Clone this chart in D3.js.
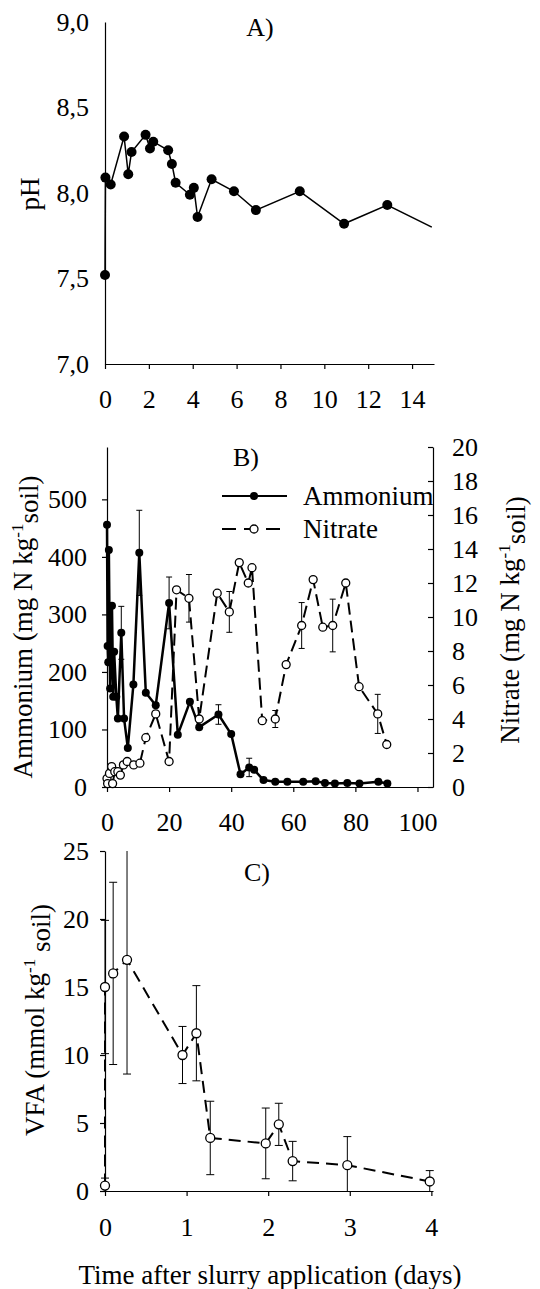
<!DOCTYPE html>
<html>
<head>
<meta charset="utf-8">
<script src="https://cdn.jsdelivr.net/npm/d3@7"></script>
<style>
body { margin: 0; background: #fff; }
svg text { font-family: "Liberation Serif", "Times New Roman", serif; fill: #000; }
.axis path, .axis line { stroke: #000; stroke-width: 1.2; }
</style>
</head>
<body>
<svg id="chart" width="540" height="1289"></svg>
<script>
/*Panel A: soil pH*/
var phDays   = [0, 0.02, 0.26, 0.87, 1.06, 1.21, 1.85, 2.05, 2.2, 2.88, 3.05, 3.22, 3.87, 4.05, 4.22, 4.86, 5.88, 6.88, 8.88, 10.9, 12.87, 14.9];
var phValues = [7.52, 8.09, 8.05, 8.33, 8.11, 8.24, 8.34, 8.26, 8.30, 8.25, 8.17, 8.06, 7.99, 8.03, 7.86, 8.08, 8.01, 7.90, 8.01, 7.82, 7.93, 7.80];
var phTicksX = [0, 2, 4, 6, 8, 10, 12, 14];
var phTicksY = [7.0, 7.5, 8.0, 8.5, 9.0];

/*Panel B: ammonium (left axis) and nitrate (right axis)*/
var nh4Days   = [0, 0.2, 0.4, 0.6, 1.0, 1.3, 1.6, 2.0, 2.3, 3.0, 3.5, 4.6, 5.5, 6.7, 8.5, 10.4, 12.5, 15.7, 20.0, 22.8, 26.7, 29.7, 35.9, 40.0, 43.0, 45.8, 47.4, 50.4, 54.2, 58.1, 63.2, 67.2, 70.2, 73.4, 77.4, 81.3, 87.4, 90.3];
var nh4Values = [456, 245, 217, 412, 171, 217, 315, 157, 235, 157, 119, 268, 119, 68, 178, 407, 164, 142, 320, 91, 148, 104, 126, 92, 22, 34, 30, 12, 9, 9, 9, 10, 7, 6, 7, 6, 9, 6];
var nh4Err    = [0, 0, 0, 0, 0, 0, 0, 0, 0, 0, 0, 46, 0, 0, 0, 74, 0, 0, 45, 0, 0, 0, 17, 0, 0, 16, 0, 0, 0, 0, 0, 0, 0, 0, 0, 0, 0, 0];
var no3Days   = [0, 0.2, 0.8, 1.5, 1.8, 2.5, 3.5, 4.3, 5.3, 6.5, 8.6, 10.6, 12.5, 15.7, 20.0, 22.4, 26.4, 29.7, 35.5, 39.4, 42.6, 45.5, 46.7, 50.0, 54.2, 57.7, 62.7, 66.4, 69.5, 72.7, 76.9, 81.2, 87.2, 90.1];
var no3Values = [0.5, 0.2, 0.8, 1.2, 0.2, 0.9, 0.9, 0.7, 1.3, 1.5, 1.3, 1.4, 2.9, 4.3, 1.5, 11.6, 11.1, 4.0, 11.4, 10.3, 13.2, 12.0, 12.9, 3.9, 4.0, 7.2, 9.5, 12.2, 9.4, 9.5, 12.0, 5.9, 4.3, 2.5];
var no3Err    = [0, 0, 0, 0, 0, 0, 0, 0, 0, 0, 0, 0, 0, 0, 0, 0, 1.4, 0, 0, 1.2, 0, 0, 0, 0, 0.5, 0, 1.35, 0, 0, 1.55, 0, 0, 1.15, 0];
var nTicksX = [0, 20, 40, 60, 80, 100];
var nh4TicksY = [0, 100, 200, 300, 400, 500];
var no3TicksY = [0, 2, 4, 6, 8, 10, 12, 14, 16, 18, 20];

/*Panel C: volatile fatty acids*/
var vfaDays   = [0, 0, 0.1, 0.27, 0.95, 1.12, 1.29, 1.97, 2.13, 2.30, 2.97, 3.98];
var vfaValues = [0.4, 15.0, 16.0, 17.0, 10.0, 11.6, 3.9, 3.5, 4.9, 2.2, 1.9, 0.7];
var vfaErr    = [0.55, 4.9, 6.7, 8.4, 2.1, 3.5, 2.7, 2.6, 1.55, 1.45, 2.1, 0.8];
var vfaTicksX = [0, 1, 2, 3, 4];
var vfaTicksY = [0, 5, 10, 15, 20, 25];

var svg = d3.select("#chart");
svg.append("rect").attr("width", 540).attr("height", 1289).attr("fill", "#fff");

var commaFmt = d3.formatLocale({decimal: ",", thousands: ".", grouping: [3], currency: ["", ""]}).format(".1f");
var intFmt = d3.format("d");

function zip(xs, ys, es){
  var out = [];
  for (var i = 0; i < xs.length; i++){
    out.push({x: xs[i], y: ys[i], e: es ? es[i] : 0});
  }
  return out;
}

//draw an axis and force the serif tick font
function drawAxis(axis, tx, ty){
  var g = svg.append("g").attr("class", "axis").attr("transform", "translate(" + tx + "," + ty + ")").call(axis);
  g.selectAll("text")
    .style("font-family", "'Liberation Serif', 'Times New Roman', serif")
    .style("font-size", "26px")
    .style("fill", "#000");
  return g;
}

function rotLabel(x, y, parts){
  var t = svg.append("text")
    .attr("transform", "translate(" + x + "," + y + ") rotate(-90)")
    .attr("text-anchor", "middle")
    .attr("dy", "0.35em")
    .style("font-size", "27px");
  addParts(t, parts);
  return t;
}

// parts: [text, isSuperscript]
function addParts(t, parts){
  for (var i = 0; i < parts.length; i++){
    var p = parts[i];
    var s = t.append("tspan").text(p[0]);
    if (p[1]) s.attr("dy", "-0.55em").style("font-size", "17px");
    else if (i > 0 && parts[i-1][1]) s.attr("dy", "0.55em");
  }
}

function errBars(g, data, x, y, cap){
  var sel = g.selectAll(null).data(data.filter(function(d){ return d.e > 0; })).enter().append("g")
    .attr("stroke", "#000").attr("stroke-width", 1);
  sel.append("line")
    .attr("x1", function(d){ return x(d.x); }).attr("x2", function(d){ return x(d.x); })
    .attr("y1", function(d){ return y(d.y - d.e); }).attr("y2", function(d){ return y(d.y + d.e); });
  sel.append("line")
    .attr("x1", function(d){ return x(d.x) - cap; }).attr("x2", function(d){ return x(d.x) + cap; })
    .attr("y1", function(d){ return y(d.y + d.e); }).attr("y2", function(d){ return y(d.y + d.e); });
  sel.append("line")
    .attr("x1", function(d){ return x(d.x) - cap; }).attr("x2", function(d){ return x(d.x) + cap; })
    .attr("y1", function(d){ return y(d.y - d.e); }).attr("y2", function(d){ return y(d.y - d.e); });
}

/*---- Panel A ----*/
var xA = d3.scaleLinear().domain([0, 15]).range([105, 434]);
var yA = d3.scaleLinear().domain([7, 9]).range([364, 22]);

drawAxis(d3.axisBottom(xA).tickValues(phTicksX).tickFormat(intFmt).tickSizeInner(5).tickSizeOuter(0).tickPadding(21), 0, 364);
drawAxis(d3.axisLeft(yA).tickValues(phTicksY).tickFormat(commaFmt).tickSizeInner(0).tickSizeOuter(0).tickPadding(16), 105, 0);

var phData = zip(phDays, phValues);
svg.append("path").datum(phData)
  .attr("fill", "none").attr("stroke", "#000").attr("stroke-width", 1.5)
  .attr("d", d3.line().x(function(d){ return xA(d.x); }).y(function(d){ return yA(d.y); }));
// last value only continues the line, no marker
svg.append("g").selectAll("circle").data(phData.slice(0, phData.length - 1)).enter().append("circle")
  .attr("cx", function(d){ return xA(d.x); }).attr("cy", function(d){ return yA(d.y); })
  .attr("r", 5).attr("fill", "#000");

svg.append("text").attr("x", 260).attr("y", 27).attr("dy", "0.35em").attr("text-anchor", "middle")
  .style("font-size", "26px").text("A)");
rotLabel(30, 194, [["pH", false]]);

/*---- Panel B ----*/
var xB = d3.scaleLinear().domain([0, 105]).range([107, 433]);
var yBL = d3.scaleLinear().domain([0, 591]).range([787, 447]);
var yBR = d3.scaleLinear().domain([0, 20]).range([787, 447]);

drawAxis(d3.axisBottom(xB).tickValues(nTicksX).tickFormat(intFmt).tickSizeInner(5).tickSizeOuter(0).tickPadding(21), 0, 787);
drawAxis(d3.axisLeft(yBL).tickValues(nh4TicksY).tickFormat(intFmt).tickSizeInner(5).tickSizeOuter(0).tickPadding(15), 107, 0);
drawAxis(d3.axisRight(yBR).tickValues(no3TicksY).tickFormat(intFmt).tickSizeInner(-5).tickSizeOuter(0).tickPadding(19), 433, 0);

var nh4Data = zip(nh4Days, nh4Values, nh4Err);
var no3Data = zip(no3Days, no3Values, no3Err);

errBars(svg.append("g"), nh4Data, xB, yBL, 3);
errBars(svg.append("g"), no3Data, xB, yBR, 3);

svg.append("path").datum(nh4Data)
  .attr("fill", "none").attr("stroke", "#000").attr("stroke-width", 2.5).attr("stroke-linejoin", "round")
  .attr("d", d3.line().x(function(d){ return xB(d.x); }).y(function(d){ return yBL(d.y); }));
svg.append("path").datum(no3Data)
  .attr("fill", "none").attr("stroke", "#000").attr("stroke-width", 2).attr("stroke-dasharray", "12,6")
  .attr("d", d3.line().x(function(d){ return xB(d.x); }).y(function(d){ return yBR(d.y); }));

svg.append("g").selectAll("circle").data(nh4Data).enter().append("circle")
  .attr("cx", function(d){ return xB(d.x); }).attr("cy", function(d){ return yBL(d.y); })
  .attr("r", 4).attr("fill", "#000");
svg.append("g").selectAll("circle").data(no3Data).enter().append("circle")
  .attr("cx", function(d){ return xB(d.x); }).attr("cy", function(d){ return yBR(d.y); })
  .attr("r", 4).attr("fill", "#fff").attr("stroke", "#000").attr("stroke-width", 1.3);

svg.append("text").attr("x", 246).attr("y", 457).attr("dy", "0.35em").attr("text-anchor", "middle")
  .style("font-size", "26px").text("B)");

// legend
var leg = svg.append("g");
leg.append("line").attr("x1", 222).attr("x2", 287).attr("y1", 496).attr("y2", 496)
  .attr("stroke", "#000").attr("stroke-width", 2);
leg.append("circle").attr("cx", 254).attr("cy", 496).attr("r", 4).attr("fill", "#000");
leg.append("text").attr("x", 303).attr("y", 496).attr("dy", "0.35em").style("font-size", "27px").text("Ammonium");
leg.append("line").attr("x1", 222).attr("x2", 287).attr("y1", 529).attr("y2", 529)
  .attr("stroke", "#000").attr("stroke-width", 2).attr("stroke-dasharray", "14,8");
leg.append("circle").attr("cx", 254).attr("cy", 529).attr("r", 4)
  .attr("fill", "#fff").attr("stroke", "#000").attr("stroke-width", 1.3);
leg.append("text").attr("x", 303).attr("y", 529).attr("dy", "0.35em").style("font-size", "27px").text("Nitrate");

rotLabel(23, 627, [["Ammonium (mg N kg", false], ["-1", true], ["soil)", false]]);
rotLabel(510, 620, [["Nitrate (mg N kg", false], ["-1", true], ["soil)", false]]);

/*---- Panel C ----*/
var xC = d3.scaleLinear().domain([0, 4.02]).range([105, 433]);
var yC = d3.scaleLinear().domain([0, 25]).range([1191, 851]);

svg.append("defs").append("clipPath").attr("id", "clipC")
  .append("rect").attr("x", 90).attr("y", 851).attr("width", 360).attr("height", 340);

drawAxis(d3.axisBottom(xC).tickValues(vfaTicksX).tickFormat(intFmt).tickSizeInner(5).tickSizeOuter(0).tickPadding(22), 0, 1191);
drawAxis(d3.axisLeft(yC).tickValues(vfaTicksY).tickFormat(intFmt).tickSizeInner(5).tickSizeOuter(0).tickPadding(11), 105, 0);

var vfaData = zip(vfaDays, vfaValues, vfaErr);
var gC = svg.append("g").attr("clip-path", "url(#clipC)");
errBars(gC, vfaData, xC, yC, 4);
gC.append("path").datum(vfaData)
  .attr("fill", "none").attr("stroke", "#000").attr("stroke-width", 2).attr("stroke-dasharray", "12,7")
  .attr("d", d3.line().x(function(d){ return xC(d.x); }).y(function(d){ return yC(d.y); }));
gC.selectAll("circle").data(vfaData).enter().append("circle")
  .attr("cx", function(d){ return xC(d.x); }).attr("cy", function(d){ return yC(d.y); })
  .attr("r", 4.5).attr("fill", "#fff").attr("stroke", "#000").attr("stroke-width", 1.3);

svg.append("text").attr("x", 257).attr("y", 872).attr("dy", "0.35em").attr("text-anchor", "middle")
  .style("font-size", "26px").text("C)");
rotLabel(35, 1020, [["VFA (mmol kg", false], ["-1", true], [" soil)", false]]);

svg.append("text").attr("x", 270).attr("y", 1275).attr("dy", "0.35em").attr("text-anchor", "middle")
  .style("font-size", "27px").text("Time after slurry application (days)");
</script>
</body>
</html>
